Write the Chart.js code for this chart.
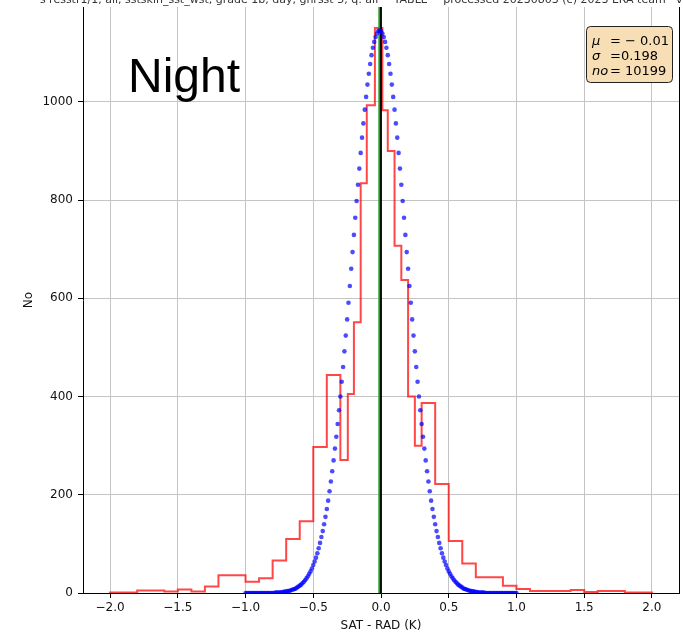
<!DOCTYPE html>
<html>
<head>
<meta charset="utf-8">
<script src="https://cdn.jsdelivr.net/npm/chart.js@4.4.1/dist/chart.umd.min.js"></script>
<style>
    html, body { margin: 0; padding: 0; background: #fff; }
    #wrap { width: 683px; height: 635px; }
</style>
</head>
<body>
<div id="wrap"><canvas id="histChart" width="683" height="635"></canvas></div>
<script>
(function () {
    "use strict";

    // histogram (SAT - RAD), bin edges + counts
    var binEdges = [
        -2.0, -1.9, -1.8, -1.7, -1.6, -1.5, -1.4, -1.3, -1.2, -1.1,
        -1.0, -0.9, -0.8, -0.7, -0.6, -0.5, -0.4, -0.3,
        -0.245, -0.2, -0.15, -0.105, -0.045, 0.01, 0.05, 0.1, 0.15, 0.2, 0.25, 0.3,
        0.4, 0.5, 0.6, 0.7, 0.8, 0.9, 1.0, 1.1, 1.2, 1.3, 1.4, 1.5, 1.6, 1.7, 1.8, 1.9, 2.0
    ];
    var binCounts = [
        1, 1, 5, 5, 3, 7, 3, 13, 36, 36,
        23, 30, 66, 110, 146, 297, 444,
        271, 405, 551, 834, 993, 1150, 983, 900, 707, 637, 400, 300,
        387, 222, 106, 60, 32, 32, 15, 8, 4, 4, 4, 6, 2, 4, 4, 1, 1
    ];

    // fitted normal curve, drawn as dots
    var gaussX = [
        -1, -0.99, -0.98, -0.97, -0.96, -0.95, -0.94, -0.93, -0.92, -0.91,
        -0.9, -0.89, -0.88, -0.87, -0.86, -0.85, -0.84, -0.83, -0.82, -0.81,
        -0.8, -0.79, -0.78, -0.77, -0.76, -0.75, -0.74, -0.73, -0.72, -0.71,
        -0.7, -0.69, -0.68, -0.67, -0.66, -0.65, -0.64, -0.63, -0.62, -0.61,
        -0.6, -0.59, -0.58, -0.57, -0.56, -0.55, -0.54, -0.53, -0.52, -0.51,
        -0.5, -0.49, -0.48, -0.47, -0.46, -0.45, -0.44, -0.43, -0.42, -0.41,
        -0.4, -0.39, -0.38, -0.37, -0.36, -0.35, -0.34, -0.33, -0.32, -0.31,
        -0.3, -0.29, -0.28, -0.27, -0.26, -0.25, -0.24, -0.23, -0.22, -0.21,
        -0.2, -0.19, -0.18, -0.17, -0.16, -0.15, -0.14, -0.13, -0.12, -0.11,
        -0.1, -0.09, -0.08, -0.07, -0.06, -0.05, -0.04, -0.03, -0.02, -0.01,
        0, 0.01, 0.02, 0.03, 0.04, 0.05, 0.06, 0.07, 0.08, 0.09,
        0.1, 0.11, 0.12, 0.13, 0.14, 0.15, 0.16, 0.17, 0.18, 0.19,
        0.2, 0.21, 0.22, 0.23, 0.24, 0.25, 0.26, 0.27, 0.28, 0.29,
        0.3, 0.31, 0.32, 0.33, 0.34, 0.35, 0.36, 0.37, 0.38, 0.39,
        0.4, 0.41, 0.42, 0.43, 0.44, 0.45, 0.46, 0.47, 0.48, 0.49,
        0.5, 0.51, 0.52, 0.53, 0.54, 0.55, 0.56, 0.57, 0.58, 0.59,
        0.6, 0.61, 0.62, 0.63, 0.64, 0.65, 0.66, 0.67, 0.68, 0.69,
        0.7, 0.71, 0.72, 0.73, 0.74, 0.75, 0.76, 0.77, 0.78, 0.79,
        0.8, 0.81, 0.82, 0.83, 0.84, 0.85, 0.86, 0.87, 0.88, 0.89,
        0.9, 0.91, 0.92, 0.93, 0.94, 0.95, 0.96, 0.97, 0.98, 0.99,
        1
    ];
    var gaussY = [
        0, 0, 0, 0, 0, 0, 0, 0, 0, 0,
        0, 0, 0, 0, 0, 0, 0, 0, 0, 0,
        0, 0, 1, 1, 1, 1, 1, 2, 2, 3,
        3, 4, 4, 5, 6, 7, 8, 9, 11, 13,
        15, 17, 20, 23, 26, 30, 34, 39, 44, 50,
        57, 64, 72, 81, 91, 102, 114, 126, 140, 155,
        171, 188, 207, 227, 248, 270, 294, 318, 344, 372,
        400, 430, 460, 492, 524, 557, 591, 625, 660, 694,
        729, 764, 798, 831, 864, 896, 927, 956, 984, 1010,
        1035, 1057, 1077, 1095, 1110, 1122, 1132, 1139, 1144, 1145,
        1144, 1139, 1132, 1122, 1110, 1095, 1077, 1057, 1035, 1010,
        984, 956, 927, 896, 864, 831, 798, 764, 729, 694,
        660, 625, 591, 557, 524, 492, 460, 430, 400, 372,
        344, 318, 294, 270, 248, 227, 207, 188, 171, 155,
        140, 126, 114, 102, 91, 81, 72, 64, 57, 50,
        44, 39, 34, 30, 26, 23, 20, 17, 15, 13,
        11, 9, 8, 7, 6, 5, 4, 4, 3, 3,
        2, 2, 1, 1, 1, 1, 1, 0, 0, 0,
        0, 0, 0, 0, 0, 0, 0, 0, 0, 0,
        0, 0, 0, 0, 0, 0, 0, 0, 0, 0,
        0
    ];

    var zeroLineX = 0;
    var meanX = -0.01;

    var xRange = [-2.2, 2.2];
    var yRange = [0, 1193];
    var xTicks = [-2, -1.5, -1, -0.5, 0, 0.5, 1, 1.5, 2];
    var yTicks = [0, 200, 400, 600, 800, 1000];

    var panelLabel = 'Night';
    var titleText = 's resstr1/1, all, sstskin_sst_wst, grade 1b, day, ghrsst 5, q: all   "TABLE"   processed 20230803 (c) 2023 ERA team   v5.2';
    // stats box: [italic symbol, value text]
    var statsLines = [
        ['\u03bc', '= \u2212 0.01'],
        ['\u03c3', '=0.198'],
        ['no', '= 10199']
    ];

    var FONT = '"DejaVu Sans", Verdana, sans-serif';

    function fmtX(v) {
        return (v < 0 ? '\u2212' : '') + Math.abs(v).toFixed(1);
    }

    // step outline like matplotlib histtype='step'
    var histPts = [{ x: binEdges[0], y: 0 }];
    binCounts.forEach(function (c, i) {
        histPts.push({ x: binEdges[i], y: c });
    });
    var last = binEdges[binEdges.length - 1];
    histPts.push({ x: last, y: binCounts[binCounts.length - 1] });
    histPts.push({ x: last, y: 0 });

    var dotPts = gaussX.map(function (x, i) { return { x: x, y: gaussY[i] }; });

    function vline(x) {
        return [{ x: x, y: yRange[0] }, { x: x, y: yRange[1] }];
    }

    function roundRect(ctx, x, y, w, h, r) {
        ctx.beginPath();
        ctx.moveTo(x + r, y);
        ctx.lineTo(x + w - r, y);
        ctx.arcTo(x + w, y, x + w, y + r, r);
        ctx.lineTo(x + w, y + h - r);
        ctx.arcTo(x + w, y + h, x + w - r, y + h, r);
        ctx.lineTo(x + r, y + h);
        ctx.arcTo(x, y + h, x, y + h - r, r);
        ctx.lineTo(x, y + r);
        ctx.arcTo(x, y, x + r, y, r);
        ctx.closePath();
    }

    var overlay = {
        id: 'overlay',
        afterDraw: function (chart) {
            var ctx = chart.ctx;
            var area = chart.chartArea;
            ctx.save();

            // right spine (no top spine visible in the source)
            ctx.strokeStyle = '#000';
            ctx.lineWidth = 1;
            ctx.beginPath();
            ctx.moveTo(area.right + 0.5, area.top);
            ctx.lineTo(area.right + 0.5, area.bottom);
            ctx.stroke();

            // big panel label
            ctx.fillStyle = '#000';
            ctx.textBaseline = 'alphabetic';
            ctx.textAlign = 'left';
            ctx.font = '48px "Liberation Sans", Arial, sans-serif';
            ctx.fillText(panelLabel, 128, 92);

            // stats box
            roundRect(ctx, 586.5, 26.5, 86, 56, 4);
            ctx.fillStyle = '#f7deb5';
            ctx.fill();
            ctx.strokeStyle = '#222';
            ctx.lineWidth = 1;
            ctx.stroke();

            ctx.fillStyle = '#000';
            statsLines.forEach(function (ln, i) {
                var y = 45 + i * 15;
                ctx.font = 'italic 13px ' + FONT;
                ctx.fillText(ln[0], 592, y);
                ctx.font = '13px ' + FONT;
                ctx.fillText(ln[1], 610, y);
            });

            // title, mostly cut off at the top edge
            ctx.font = '11px ' + FONT;
            ctx.fillStyle = '#333';
            ctx.textAlign = 'center';
            ctx.fillText(titleText, 370, 3);

            ctx.restore();
        }
    };

    new Chart(document.getElementById('histChart'), {
        type: 'scatter',
        data: {
            datasets: [
                { label: 'fit', data: dotPts, showLine: false, pointRadius: 2.3, pointBorderWidth: 0, pointBackgroundColor: 'rgba(0,0,255,0.7)', pointBorderColor: 'rgba(0,0,0,0)' },
                { label: 'zero', data: vline(zeroLineX), showLine: true, borderColor: '#000', borderWidth: 1.8, pointRadius: 0 },
                { label: 'mean', data: vline(meanX), showLine: true, borderColor: '#1a9a1a', borderWidth: 2.6, pointRadius: 0 },
                { label: 'hist', data: histPts, showLine: true, stepped: true, borderColor: 'rgba(255,0,0,0.72)', borderWidth: 2, pointRadius: 0, fill: false }
            ]
        },
        options: {
            responsive: false,
            animation: false,
            devicePixelRatio: 1,
            events: [],
            layout: { padding: { left: 0, right: 3, top: 7, bottom: 0 } },
            scales: {
                x: {
                    type: 'linear',
                    min: xRange[0],
                    max: xRange[1],
                    afterBuildTicks: function (s) { s.ticks = xTicks.map(function (v) { return { value: v }; }); },
                    afterFit: function (s) { s.height = 42; s.paddingLeft = 0; s.paddingRight = 0; },
                    ticks: { callback: fmtX, font: { family: FONT, size: 12 }, color: '#111', padding: 3, maxRotation: 0, autoSkip: false },
                    grid: { color: '#c4c4c4', lineWidth: 1, tickLength: 5, tickColor: '#000' },
                    border: { color: '#000', width: 1 },
                    title: { display: true, text: 'SAT - RAD (K)', font: { family: FONT, size: 12 }, color: '#111', padding: { top: 0, bottom: 2 } }
                },
                y: {
                    type: 'linear',
                    min: yRange[0],
                    max: yRange[1],
                    afterBuildTicks: function (s) { s.ticks = yTicks.map(function (v) { return { value: v }; }); },
                    afterFit: function (s) { s.width = 83; s.paddingTop = 0; s.paddingBottom = 0; },
                    ticks: { callback: function (v) { return String(v); }, font: { family: FONT, size: 12 }, color: '#111', padding: 5 },
                    grid: { color: '#c4c4c4', lineWidth: 1, tickLength: 5, tickColor: '#000' },
                    border: { color: '#000', width: 1 },
                    title: { display: true, text: 'No', font: { family: FONT, size: 12 }, color: '#111', padding: { top: 22, bottom: 0 } }
                }
            },
            plugins: {
                legend: { display: false },
                tooltip: { enabled: false }
            }
        },
        plugins: [overlay]
    });
})();
</script>
</body>
</html>
